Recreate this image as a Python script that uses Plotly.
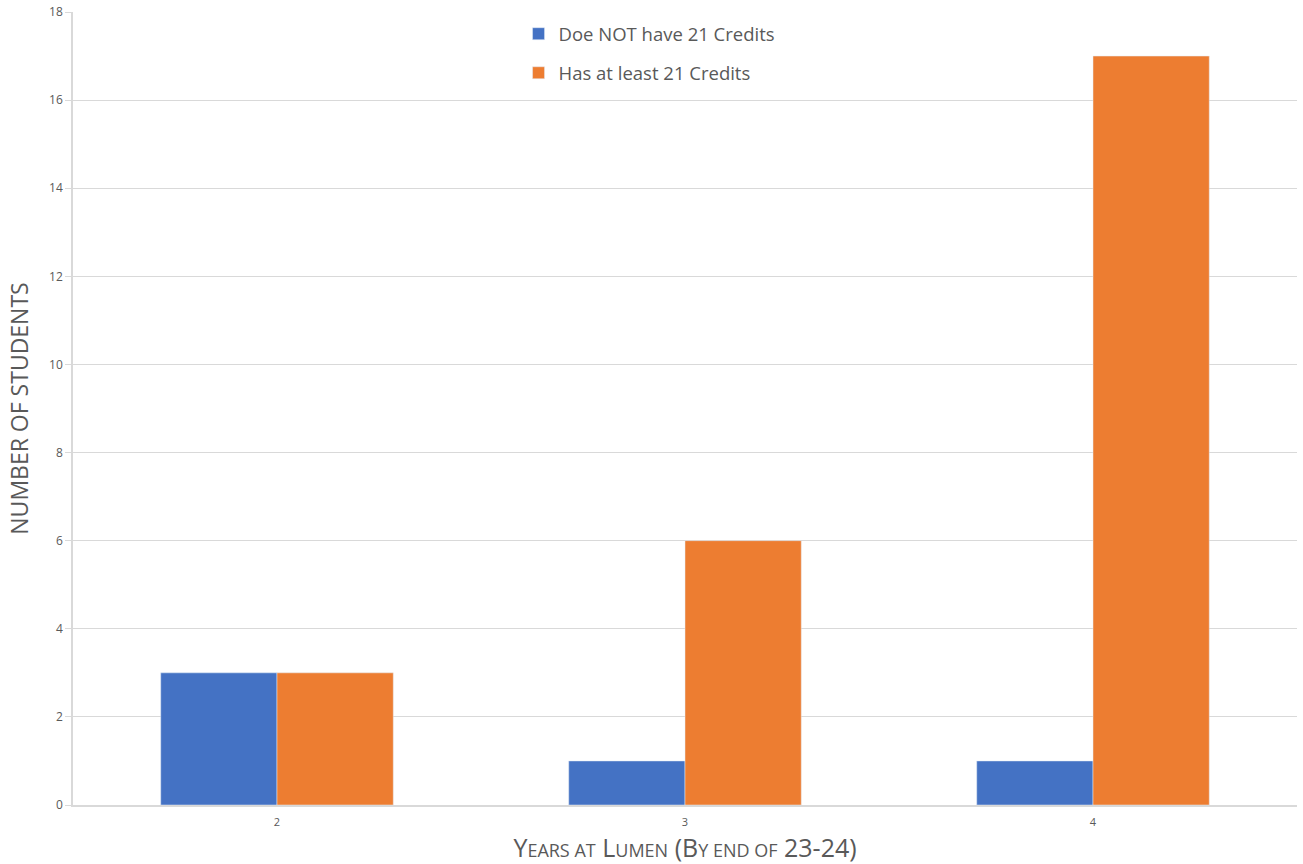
import plotly.graph_objects as go

categories = ["2", "3", "4"]
not_21 = [3, 1, 1]
at_least_21 = [3, 6, 17]
series_names = ["Doe NOT have 21 Credits", "Has at least 21 Credits"]
y_ticks = [0, 2, 4, 6, 8, 10, 12, 14, 16, 18]

font_family = "Open Sans, Calibri, Carlito, sans-serif"
grey = "#595959"

fig = go.Figure()
fig.add_trace(go.Bar(x=categories, y=not_21, name=series_names[0],
                     marker_color="#4472C4", legendgroup="a"))
fig.add_trace(go.Bar(x=categories, y=at_least_21, name=series_names[1],
                     marker_color="#ED7D31", legendgroup="b"))

sc = "font-size:18px"
xtitle = (f"Y<span style='{sc}'>EARS AT</span> L<span style='{sc}'>UMEN</span> "
          f"(B<span style='{sc}'>Y END OF</span> 23-24)")

fig.update_layout(
    width=1303, height=864,
    margin=dict(l=73, r=6, t=12, b=59),
    plot_bgcolor="white", paper_bgcolor="white",
    barmode="group", bargap=0.43, bargroupgap=0,
    font=dict(family=font_family, color=grey),
    showlegend=True,
    legend=dict(x=0.364, y=0.996, xanchor="left", yanchor="top",
                font=dict(size=18.5, color=grey), tracegroupgap=12,
                bgcolor="rgba(255,255,255,0)", itemwidth=30),
    xaxis=dict(type="category", tickfont=dict(size=11, color=grey),
               showline=True, linecolor="#d9d9d9", linewidth=1.5,
               ticks="", ticklabelstandoff=6, automargin=False,
               title=dict(text=xtitle, font=dict(size=25, color=grey),
                          standoff=14)),
    yaxis=dict(range=[0, 18], tickvals=y_ticks, tickfont=dict(size=12, color=grey),
               showgrid=True, gridcolor="#d9d9d9", gridwidth=1.3,
               showline=True, linecolor="#d9d9d9", linewidth=1.5,
               ticks="outside", ticklen=6, tickcolor="#d9d9d9",
               zeroline=False, automargin=False,
               title=dict(text="NUMBER OF STUDENTS", font=dict(size=23, color=grey),
                          standoff=14)),
)

fig.write_html("out.html")
